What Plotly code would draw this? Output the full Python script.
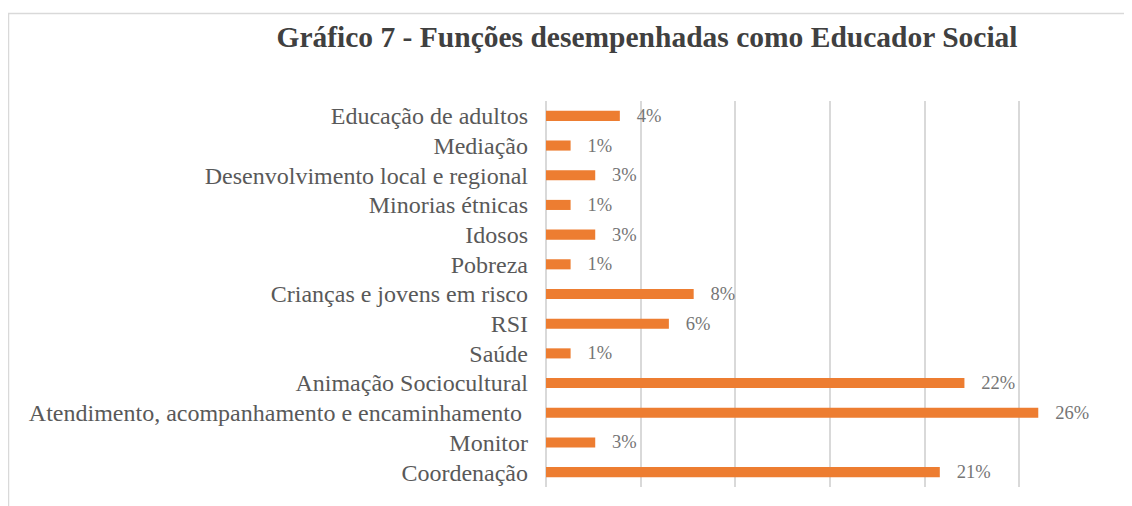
import plotly.graph_objects as go

categories = [
    "Educação de adultos",
    "Mediação",
    "Desenvolvimento local e regional",
    "Minorias étnicas",
    "Idosos",
    "Pobreza",
    "Crianças e jovens em risco",
    "RSI",
    "Saúde",
    "Animação Sociocultural",
    "Atendimento, acompanhamento e encaminhamento ",
    "Monitor",
    "Coordenação",
]
values = [3.9, 1.3, 2.6, 1.3, 2.6, 1.3, 7.8, 6.49, 1.3, 22.1, 26.0, 2.6, 20.8]
x_ticks = [0, 5, 10, 15, 20, 25, 30]

# page body has an 8px margin; figure coordinates = reference coordinates - 8
OFF = 8
W, H = 1132 - OFF, 506 - OFF
L, R, T, B = 546 - OFF, 1114 - OFF, 101 - OFF, 487 - OFF

fig = go.Figure(go.Bar(
    y=categories,
    x=values,
    orientation="h",
    marker=dict(color="#ED7D31", line=dict(width=0)),
    texttemplate="\u00a0\u00a0\u00a0%{x:.0f}%",
    textposition="outside",
    constraintext="none",
    cliponaxis=False,
    textfont=dict(family="Liberation Serif", size=18.5, color="#757575"),
))

def px_x(p):
    return (p - OFF - L) / (R - L)

def px_y(p):
    return (B - (p - OFF)) / (B - T)

fig.add_shape(type="rect", xref="paper", yref="paper",
              x0=px_x(8.5), x1=px_x(1145), y0=px_y(13.5), y1=px_y(530),
              line=dict(color="#D9D9D9", width=1.5), fillcolor="rgba(0,0,0,0)",
              layer="below")

fig.update_layout(
    width=W, height=H,
    margin=dict(l=L, r=W - R, t=T, b=H - B, pad=0),
    paper_bgcolor="white", plot_bgcolor="white",
    bargap=0.66,
    showlegend=False,
    title=dict(
        text="<b>Gráfico 7 - Funções desempenhadas como Educador Social</b>",
        x=(647 - OFF) / W, xanchor="center", y=1 - (36.5 - OFF) / H, yanchor="middle",
        font=dict(family="Liberation Serif", size=29.5, color="#404040"),
    ),
    xaxis=dict(
        range=[0, 30], tickvals=x_ticks, showticklabels=False,
        showgrid=True, gridcolor="#D9D9D9", gridwidth=1.5,
        zeroline=True, zerolinecolor="#D9D9D9", zerolinewidth=1.5,
        fixedrange=True,
    ),
    yaxis=dict(
        autorange="reversed", showgrid=False, zeroline=False,
        ticks="", ticklabelstandoff=17,
        tickfont=dict(family="Liberation Serif", size=24, color="#595959"),
    ),
)

fig.write_html("out.html")
